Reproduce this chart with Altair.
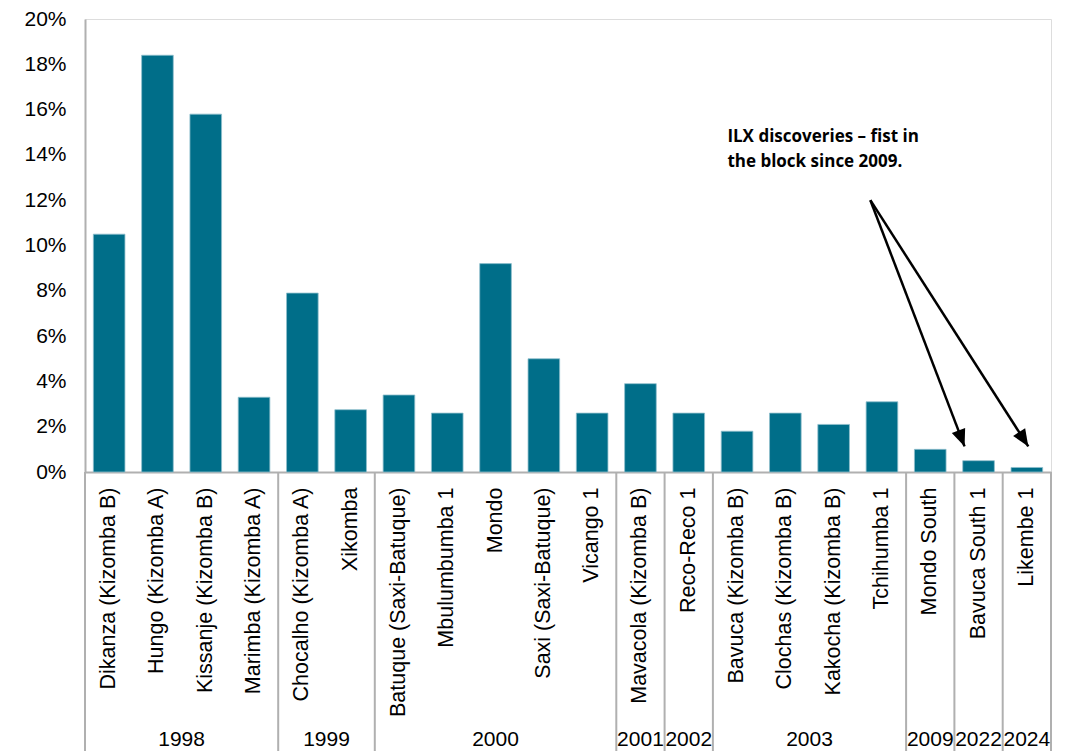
import altair as alt
import pandas as pd

# ---- data ----
names = [
    "Dikanza (Kizomba B)", "Hungo (Kizomba A)", "Kissanje (Kizomba B)", "Marimba (Kizomba A)",
    "Chocalho (Kizomba A)", "Xikomba",
    "Batuque (Saxi-Batuque)", "Mbulumbumba 1", "Mondo", "Saxi (Saxi-Batuque)", "Vicango 1",
    "Mavacola (Kizomba B)",
    "Reco-Reco 1",
    "Bavuca (Kizomba B)", "Clochas (Kizomba B)", "Kakocha (Kizomba B)", "Tchihumba 1",
    "Mondo South",
    "Bavuca South 1",
    "Likembe 1",
]
values_pct = [10.5, 18.4, 15.8, 3.3, 7.9, 2.75, 3.4, 2.6, 9.2, 5.0, 2.6,
              3.9, 2.6, 1.8, 2.6, 2.1, 3.1, 1.0, 0.5, 0.2]
year_labels = ["1998", "1999", "2000", "2001", "2002", "2003", "2009", "2022", "2024"]
year_counts = [4, 2, 5, 1, 1, 4, 1, 1, 1]
y_ticks = [0, 0.02, 0.04, 0.06, 0.08, 0.10, 0.12, 0.14, 0.16, 0.18, 0.20]

note_lines = ["ILX discoveries \u2013 fist in", "the block since 2009."]
note_x, note_y = 13.3, 0.148            # bar-index units, share
arrow_start_x, arrow_start_y = 16.26, 0.12
arrow_tip_x = [18.21, 19.53]
arrow_tip_y = [0.0113, 0.0113]
arrow_angle = [339.1, 327.4]

# ---- tables ----
bars = pd.DataFrame({"name": names, "v": [p / 100 for p in values_pct]})

bounds = [0]
for c in year_counts:
    bounds.append(bounds[-1] + c)
years = pd.DataFrame({
    "year": year_labels,
    "mid": [(bounds[i] + bounds[i + 1]) / 2 for i in range(len(year_labels))],
})
seps = pd.DataFrame({"b": bounds})
arrows = pd.DataFrame({
    "x1": [arrow_start_x] * 2, "y1": [arrow_start_y] * 2,
    "x2": arrow_tip_x, "y2": arrow_tip_y, "ang": arrow_angle,
})
note = pd.DataFrame({"x": [note_x], "y": [note_y], "t": [note_lines]})

GRAY = "#b0b0b0"
FONT = "Liberation Sans"
yscale = alt.Scale(domain=[0, 0.2], nice=False)
yaxis = alt.Axis(format=".0%", values=y_ticks, ticks=False, grid=False, title=None,
                 domainColor=GRAY, domainWidth=2, labelFont=FONT, labelFontSize=21,
                 labelColor="black", labelPadding=19)


def xq(field):
    return alt.X(field, type="quantitative",
                 scale=alt.Scale(domain=[0, 20], nice=False, zero=False), axis=None)


def yq(field):
    return alt.Y(field, type="quantitative", scale=yscale, axis=yaxis)


bar_layer = alt.Chart(bars).mark_bar(
    color="#006E89", stroke="#8fbfcd", strokeWidth=0.8
).encode(
    x=alt.X("name:N", sort=names,
            scale=alt.Scale(paddingInner=0.345, paddingOuter=0.1725),
            axis=alt.Axis(title=None, labelAngle=-90, ticks=False, labelPadding=15,
                          labelFont=FONT, labelFontSize=21.5, labelColor="black",
                          labelLimit=400, labelOverlap=False,
                          domainColor=GRAY, domainWidth=2)),
    y=yq("v"),
)

sep_layer = alt.Chart(seps).mark_rule(color=GRAY, strokeWidth=2).encode(
    x=xq("b"), y=alt.value(453), y2=alt.value(745)
)

year_layer = alt.Chart(years).mark_text(
    font=FONT, fontSize=21, color="black", align="center", baseline="middle"
).encode(x=xq("mid"), y=alt.value(721), text="year:N")

arrow_line = alt.Chart(arrows).mark_rule(color="black", strokeWidth=2.5).encode(
    x=xq("x1"), x2="x2", y=yq("y1"), y2="y2"
)

arrow_head = alt.Chart(arrows).mark_point(
    shape="M0,0 L-0.42,-1 L0.42,-1 Z", filled=True, size=1156,
    color="black", opacity=1, strokeWidth=0
).encode(x=xq("x2"), y=yq("y2"), angle=alt.Angle("ang:Q", scale=None))

note_layer = alt.Chart(note).mark_text(
    font="Open Sans", fontWeight="bold", fontSize=17, lineHeight=25,
    align="left", baseline="middle", color="black"
).encode(x=xq("x"), y=yq("y"), text="t")

chart = alt.layer(
    sep_layer, bar_layer, year_layer, arrow_line, arrow_head, note_layer
).resolve_scale(x="independent").properties(
    width=966, height=453,
    autosize=alt.AutoSizeParams(type="none"),
    padding={"left": 77, "top": 11, "right": 5, "bottom": 279},
).configure_view(stroke=None).configure(background="white")

chart.save("out.html", embed_options={"renderer": "svg", "actions": False})
